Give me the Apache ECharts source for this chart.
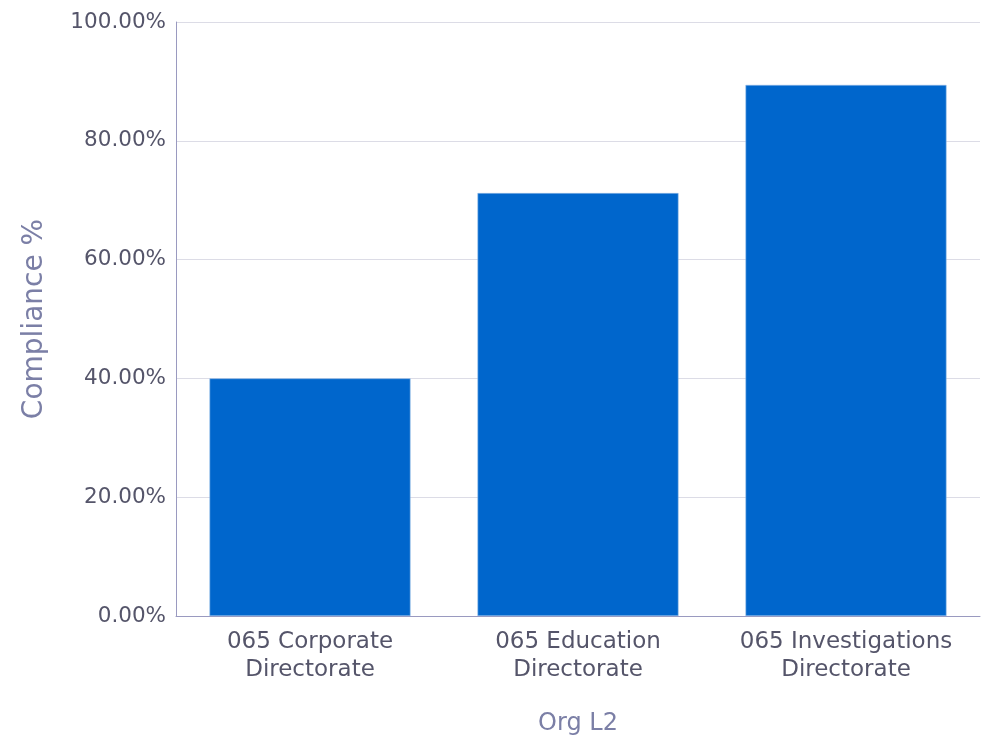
<!DOCTYPE html>
<html>
<head>
<meta charset="utf-8">
<script src="https://cdn.jsdelivr.net/npm/echarts@6/dist/echarts.min.js"></script>
<style>html,body{margin:0;padding:0;background:#fff}#c{width:981px;height:747px}</style>
</head>
<body>
<div id="c"></div>
<script>
var categories = ['065 Corporate\nDirectorate', '065 Education\nDirectorate', '065 Investigations\nDirectorate'];
var compliance = [40.0, 71.2, 89.4];
var yTicks = {min: 0, max: 100, interval: 20};

var FONT = '"DejaVu Sans", sans-serif';
var chart = echarts.init(document.getElementById('c'));
chart.setOption({
  animation: false,
  backgroundColor: '#ffffff',
  grid: {left: 176, right: 1, top: 22, bottom: 131, containLabel: false},
  xAxis: {
    type: 'category',
    data: categories,
    name: 'Org L2',
    nameLocation: 'middle',
    nameGap: 96,
    nameTextStyle: {color: '#7b7fa6', fontSize: 24, fontFamily: FONT},
    axisLine: {show: true, lineStyle: {color: '#9a9ac0', width: 1}},
    axisTick: {show: false},
    axisLabel: {color: '#55556a', fontSize: 23, fontFamily: FONT, lineHeight: 28, margin: 12, interval: 0}
  },
  yAxis: {
    type: 'value',
    min: yTicks.min, max: yTicks.max, interval: yTicks.interval,
    name: 'Compliance %',
    nameLocation: 'middle',
    nameGap: 127,
    nameRotate: 90,
    nameTextStyle: {color: '#7b7fa6', fontSize: 28, fontFamily: FONT},
    axisLine: {show: true, lineStyle: {color: '#9a9ac0', width: 1}},
    axisTick: {show: false},
    splitLine: {show: true, lineStyle: {color: '#dcdce6', width: 1}},
    axisLabel: {color: '#55556a', fontSize: 21.5, fontFamily: FONT, margin: 10,
      formatter: function (v) { return v.toFixed(2) + '%'; }}
  },
  series: [{
    type: 'bar',
    data: compliance,
    barWidth: '75%',
    itemStyle: {color: '#0066cc', borderColor: '#8fb8e6', borderWidth: 0.6}
  }]
});
</script>
</body>
</html>
